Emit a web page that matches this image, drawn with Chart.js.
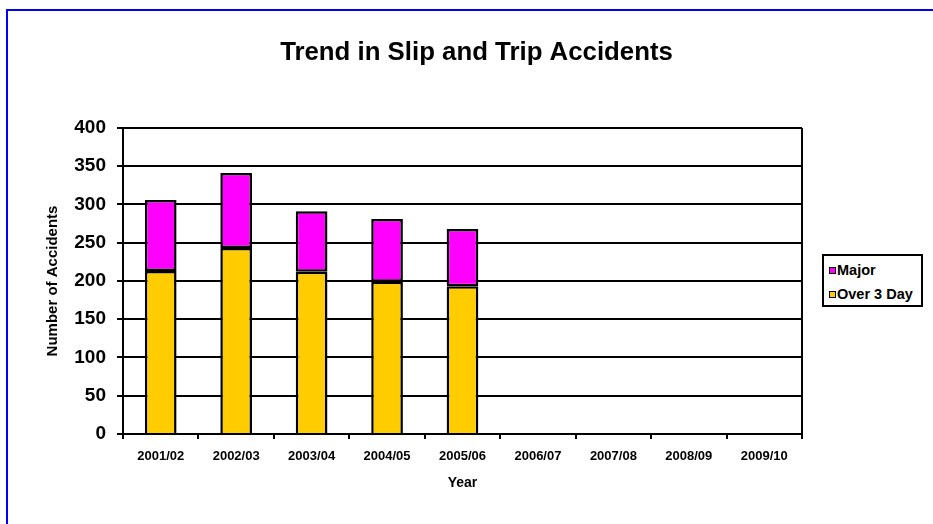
<!DOCTYPE html>
<html>
<head>
<meta charset="utf-8">
<script src="https://cdn.jsdelivr.net/npm/chart.js@4/dist/chart.umd.min.js"></script>
<style>
  html, body { margin: 0; padding: 0; background: #fff; }
  body { width: 933px; height: 524px; position: relative; overflow: hidden; font-family: "Liberation Sans", Arial, sans-serif; }
  #frame { position: absolute; left: 6px; top: 9px; width: 1000px; height: 600px; border-left: 2px solid #0000ff; border-top: 2px solid #0000ff; }
  #wrap { position: absolute; left: 0; top: 0; width: 933px; height: 524px; }
  #legend { position: absolute; left: 822px; top: 254px; width: 97px; height: 49px; border: 2px solid #000; background: #fff; }
  .item { position: absolute; left: 5px; font-weight: bold; font-size: 14.5px; color: #000; white-space: nowrap; line-height: 16px; }
  .swatch { display: inline-block; width: 5px; height: 5px; border: 1.5px solid #000; margin-right: 1px; vertical-align: 1px; }
</style>
</head>
<body>
<div id="frame"></div>
<div id="wrap"><canvas id="c" width="933" height="524"></canvas></div>
<div id="legend"></div>
<script>
const categories = ['2001/02', '2002/03', '2003/04', '2004/05', '2005/06', '2006/07', '2007/08', '2008/09', '2009/10'];
const over3Day = [213, 243, 212, 199, 193, null, null, null, null];
const major = [93, 98, 79, 82, 75, null, null, null, null];
const seriesNames = ['Over 3 Day', 'Major'];
const seriesColors = ['#FFCC00', '#FF00FF'];
const yTicks = [0, 50, 100, 150, 200, 250, 300, 350, 400];

const FONT = '"Liberation Sans", Arial, sans-serif';

const plotBorder = {
  id: 'plotBorder',
  afterDraw(chart) {
    const a = chart.chartArea;
    const ctx = chart.ctx;
    ctx.save();
    ctx.strokeStyle = '#000';
    ctx.lineWidth = 2;
    ctx.beginPath();
    ctx.moveTo(a.right, a.top);
    ctx.lineTo(a.right, a.bottom);
    ctx.stroke();
    ctx.restore();
  }
};

const chart = new Chart(document.getElementById('c'), {
  type: 'bar',
  data: {
    labels: categories,
    datasets: [
      { label: seriesNames[0], data: over3Day, backgroundColor: seriesColors[0], borderColor: '#000', borderWidth: 2.5, borderSkipped: 'start' },
      { label: seriesNames[1], data: major, backgroundColor: seriesColors[1], borderColor: '#000', borderWidth: 2.5, borderSkipped: false }
    ]
  },
  options: {
    responsive: false,
    animation: false,
    devicePixelRatio: 1,
    layout: { padding: { left: 20, right: 0, top: 0, bottom: 0 } },
    datasets: { bar: { categoryPercentage: 1, barPercentage: 0.42 } },
    plugins: {
      legend: { display: false },
      tooltip: { enabled: false },
      title: {
        display: true,
        text: 'Trend in Slip and Trip Accidents',
        color: '#000',
        font: { family: FONT, size: 25.8, weight: 'bold' },
        padding: { top: 37.3, bottom: 59.7 }
      }
    },
    scales: {
      x: {
        stacked: true,
        afterFit(s) { s.height = 90; },
        grid: { display: true, offset: true, drawOnChartArea: false, drawTicks: true, tickLength: 5, color: '#000', lineWidth: 2 },
        border: { display: true, color: '#000', width: 2 },
        ticks: { color: '#000', font: { family: FONT, size: 13, weight: 'bold' }, padding: 10, maxRotation: 0, autoSkip: false },
        title: { display: true, text: 'Year', color: '#000', font: { family: FONT, size: 14, weight: 'bold' }, padding: { top: 0, bottom: 32.6 } }
      },
      y: {
        stacked: true,
        min: 0, max: 400,
        afterFit(s) { s.width = 103; },
        afterBuildTicks(s) { s.ticks = yTicks.map(v => ({ value: v })); },
        grid: { color: '#000', lineWidth: 2, drawTicks: true, tickLength: 6 },
        border: { display: true, color: '#000', width: 2 },
        ticks: { color: '#000', font: { family: FONT, size: 19, weight: 'bold' }, padding: 11 },
        title: { display: true, text: 'Number of Accidents', color: '#000', font: { family: FONT, size: 15, weight: 'bold' }, padding: { top: 24, bottom: 0 } }
      },
      yr: {
        position: 'right',
        display: true,
        afterFit(s) { s.width = 131; },
        grid: { display: false, drawOnChartArea: false },
        border: { display: false },
        ticks: { display: false }
      }
    }
  },
  plugins: [plotBorder]
});

// HTML legend built from the chart's datasets (reverse order like the reference)
const legendEl = document.getElementById('legend');
const items = chart.data.datasets.slice().reverse();
items.forEach((ds, i) => {
  const d = document.createElement('div');
  d.className = 'item';
  d.style.top = (6 + i * 23.5) + 'px';
  const sw = document.createElement('span');
  sw.className = 'swatch';
  sw.style.background = ds.backgroundColor;
  d.appendChild(sw);
  d.appendChild(document.createTextNode(ds.label));
  legendEl.appendChild(d);
});
</script>
</body>
</html>
